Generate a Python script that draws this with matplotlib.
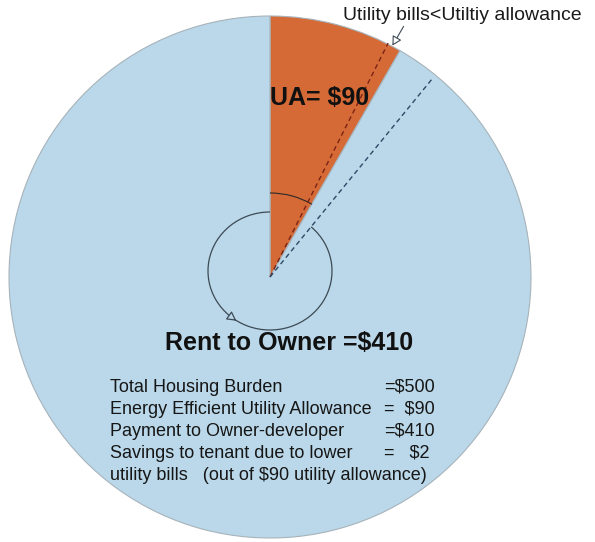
import numpy as np
import matplotlib

matplotlib.use("Agg")
import matplotlib.pyplot as plt
from matplotlib.patches import Arc

plt.rcParams["font.family"] = ["Liberation Sans", "DejaVu Sans"]

# slice shares (percent of the circle)
SLICE_NAMES = ["UA", "Rent to Owner"]
SLICE_SHARES = [8.3, 91.7]
SLICE_COLORS = ["#d56a36", "#bad8e9"]

SUMMARY_LEFT = [
    "Total Housing Burden",
    "Energy Efficient Utility Allowance",
    "Payment to Owner-developer",
    "Savings to tenant due to lower",
    "utility bills   (out of $90 utility allowance)",
]
SUMMARY_RIGHT = ["=$500", "=  $90", "=$410", "=   $2", ""]

# dashed guide lines: angle (deg, counter-clockwise from east), length in px
GUIDE_ANGLES = [63.2, 50.7]
GUIDE_LENGTHS = [262, 256]
GUIDE_COLORS = ["#7a2416", "#2d4a66"]

W, H = 595, 542


def py(y):
    # pixel row -> data y
    return H - y


fig = plt.figure(figsize=(W / 100, H / 100), dpi=100)
ax = fig.add_axes([0, 0, 1, 1])

cx, cy = 270, py(277)
radius = 261

ax.pie(
    SLICE_SHARES,
    colors=SLICE_COLORS,
    startangle=90,
    counterclock=False,
    center=(cx, cy),
    radius=radius,
    wedgeprops={"edgecolor": "#a7b3bb", "linewidth": 0.8},
)

for ang, length, color in zip(GUIDE_ANGLES, GUIDE_LENGTHS, GUIDE_COLORS):
    t = np.deg2rad(ang)
    ax.plot([cx, cx + length * np.cos(t)], [cy, cy + length * np.sin(t)],
            color=color, linewidth=1.0, linestyle=(0, (3.5, 2.5)))

# small angle arc over the wedge
ax.add_patch(Arc((cx, cy), 168, 168, theta1=60, theta2=90,
                 color="#2a2a2a", linewidth=0.8))

# loop arrow round the centre
lx, ly, la, lb = 270, py(271), 62, 59
ax.add_patch(Arc((lx, ly), 2 * la, 2 * lb, theta1=90, theta2=47,
                 color="#3d4a55", linewidth=0.9))
th = np.deg2rad(233)
px_, py_ = lx + la * np.cos(th), ly + lb * np.sin(th)
tx, ty = -la * np.sin(th), lb * np.cos(th)
ax.annotate("", xy=(px_ + 0.12 * tx, py_ + 0.12 * ty),
            xytext=(px_ - 0.05 * tx, py_ - 0.05 * ty),
            arrowprops={"arrowstyle": "-|>,head_length=0.55,head_width=0.3",
                        "fc": "#bad8e9", "ec": "#3d4a55", "lw": 0.9})

# callout at the top right
ax.annotate("", xy=(391, py(48)), xytext=(405, py(24)),
            arrowprops={"arrowstyle": "-|>,head_length=0.55,head_width=0.3",
                        "fc": "white", "ec": "#3d4a55", "lw": 0.8})
ax.text(343, py(15), "Utility bills<Utiltiy allowance", fontsize=14,
        color="#1a1a1a", ha="left", va="center")

ax.text(270, py(98), "UA= $90", fontsize=18, fontweight="bold",
        color="#111111", ha="left", va="center")
ax.text(165, py(343), "Rent to Owner =$410", fontsize=18, fontweight="bold",
        color="#111111", ha="left", va="center")

line_rows = [387, 409, 431, 453, 475]
for row, left, right in zip(line_rows, SUMMARY_LEFT, SUMMARY_RIGHT):
    ax.text(110, py(row), left, fontsize=13, color="#161616",
            ha="left", va="center")
    if right:
        ax.text(384, py(row), right, fontsize=13, color="#161616",
                ha="left", va="center")

ax.set_xlim(0, W)
ax.set_ylim(0, H)
ax.set_aspect("equal")
ax.set_axis_off()

fig.savefig("out.png", dpi=100, facecolor="white")
